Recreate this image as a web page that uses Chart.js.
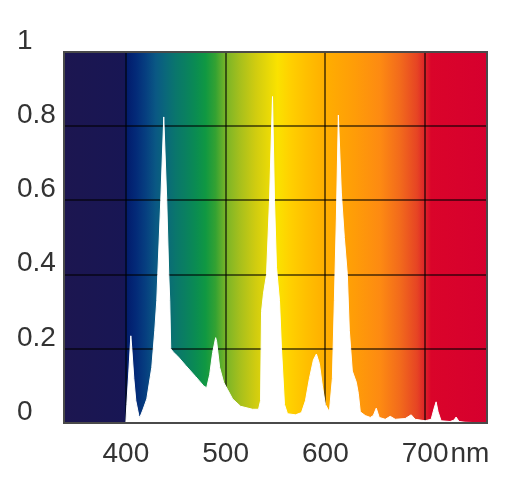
<!DOCTYPE html>
<html>
<head>
<meta charset="utf-8">
<script src="https://cdn.jsdelivr.net/npm/chart.js@4"></script>
<style>
  html, body { margin: 0; padding: 0; background: #fff; }
  #wrap { width: 513px; height: 480px; }
</style>
</head>
<body>
<div id="wrap"><canvas id="spectrum" width="513" height="480"></canvas></div>
<script>
// Spectral power distribution, relative intensity per wavelength (nm)
const wavelengths = [338, 399, 400, 401, 403, 405, 406, 408, 410, 413, 414, 417, 421, 426, 429, 431, 432, 435, 438, 441,
  443, 444, 445, 448, 452, 460, 470, 478, 481, 484, 487, 490, 491, 494, 498, 502, 507, 515, 527, 533,
  535, 536, 538, 541, 544, 547, 549, 551, 554, 556, 559, 562, 570, 576, 580, 584, 588, 591, 594, 597,
  600, 604, 607, 609, 611, 613, 616, 619, 622, 624, 627, 631, 633, 635, 640, 645, 648, 651, 654, 660,
  665, 670, 680, 686, 690, 700, 706, 709, 711, 713, 716, 725, 729, 731, 734, 740, 762];
const intensity = [0, 0, 0, 0.05, 0.14, 0.235, 0.2, 0.12, 0.06, 0.02, 0.015, 0.035, 0.065, 0.15, 0.25, 0.33, 0.4, 0.6, 0.825, 0.6,
  0.4, 0.33, 0.2, 0.19, 0.18, 0.155, 0.125, 0.1, 0.095, 0.13, 0.19, 0.23, 0.22, 0.15, 0.11, 0.09, 0.065, 0.045, 0.037, 0.037,
  0.06, 0.3, 0.35, 0.4, 0.6, 0.88, 0.6, 0.42, 0.33, 0.2, 0.05, 0.025, 0.022, 0.028, 0.06, 0.12, 0.17, 0.186, 0.16, 0.1,
  0.05, 0.03, 0.12, 0.33, 0.55, 0.83, 0.62, 0.5, 0.4, 0.25, 0.14, 0.11, 0.08, 0.03, 0.02, 0.015, 0.02, 0.04, 0.015, 0.01,
  0.018, 0.01, 0.012, 0.022, 0.01, 0.006, 0.01, 0.04, 0.057, 0.03, 0.006, 0.004, 0.008, 0.016, 0.004, 0.002, 0];

const xTicks = [400, 500, 600, 700];
const yTicks = [0, 0.2, 0.4, 0.6, 0.8, 1];
const xUnit = 'nm';

// background rainbow, stop wavelength -> colour
const spectrumStops = [
  [338, '#1c1650'], [398, '#181654'], [401, '#021c6c'], [410, '#032a78'], [420, '#063f80'],
  [430, '#0a5884'], [440, '#0a687a'], [450, '#0a766c'], [460, '#0a8060'], [470, '#0a8c52'],
  [480, '#109842'], [490, '#34a232'], [500, '#78b428'], [515, '#a8c01c'], [530, '#d0cc10'],
  [552, '#fae200'], [565, '#ffd000'], [580, '#ffc000'], [600, '#ffae00'], [630, '#ff9c08'],
  [655, '#fd8a12'], [675, '#f26a1c'], [692, '#e64424'], [700, '#de2228'], [706, '#da042a'],
  [762, '#d6002e']
];

const FONT = { family: "'Liberation Sans', Arial, sans-serif", size: 28 };
const TEXT = '#333333';

const backdrop = {
  id: 'backdrop',
  beforeDraw(chart) {
    const { ctx, chartArea: a, scales: { x } } = chart;
    const g = ctx.createLinearGradient(a.left, 0, a.right, 0);
    spectrumStops.forEach(([nm, c]) => {
      const t = (x.getPixelForValue(nm) - a.left) / (a.right - a.left);
      g.addColorStop(Math.min(1, Math.max(0, t)), c);
    });
    ctx.save();
    ctx.fillStyle = g;
    ctx.fillRect(a.left, a.top, a.right - a.left, a.bottom - a.top);
    ctx.restore();
  },
  afterDatasetsDraw(chart) {
    const { ctx, chartArea: a } = chart;
    ctx.save();
    ctx.lineWidth = 2;
    ctx.strokeStyle = '#4a4a4a';
    ctx.strokeRect(a.left, a.top, a.right - a.left, a.bottom - a.top);
    ctx.restore();
  },
  afterDraw(chart) {
    // unit after the last x label
    const { ctx, scales: { x } } = chart;
    ctx.save();
    ctx.font = FONT.size + 'px ' + FONT.family;
    ctx.fillStyle = TEXT;
    ctx.textBaseline = 'middle';
    ctx.textAlign = 'left';
    const last = xTicks[xTicks.length - 1];
    const w = ctx.measureText(String(last)).width;
    ctx.fillText(xUnit, x.getPixelForValue(last) + w / 2 + 2, x.top + 14 + FONT.size * 0.6);
    ctx.restore();
  }
};

new Chart(document.getElementById('spectrum'), {
  type: 'line',
  data: {
    labels: wavelengths,
    datasets: [{
      data: wavelengths.map((nm, i) => ({ x: nm, y: intensity[i] })),
      borderColor: '#ffffff',
      borderWidth: 1,
      backgroundColor: '#ffffff',
      fill: 'origin',
      pointRadius: 0,
      tension: 0
    }]
  },
  options: {
    responsive: false,
    animation: false,
    layout: { padding: { left: 17, right: 26, top: 52, bottom: 0 } },
    plugins: { legend: { display: false }, tooltip: { enabled: false } },
    scales: {
      x: {
        type: 'linear',
        min: 338,
        max: 762,
        afterBuildTicks: s => { s.ticks = xTicks.map(v => ({ value: v })); },
        afterFit: s => { s.height = 57; },
        grid: { color: 'rgba(0,0,0,0.55)', lineWidth: 2, drawTicks: false },
        border: { display: false },
        ticks: { color: TEXT, font: FONT, padding: 14, maxRotation: 0, callback: v => String(v) }
      },
      y: {
        min: 0,
        max: 1,
        afterBuildTicks: s => { s.ticks = yTicks.map(v => ({ value: v })); },
        afterFit: s => { s.width = 47; },
        grid: { color: 'rgba(0,0,0,0.55)', lineWidth: 2, drawTicks: false },
        border: { display: false },
        ticks: {
          color: TEXT, font: FONT, padding: 2, crossAlign: 'far', labelOffset: -11,
          callback: v => String(Math.round(v * 10) / 10)
        }
      }
    }
  },
  plugins: [backdrop]
});
</script>
</body>
</html>
